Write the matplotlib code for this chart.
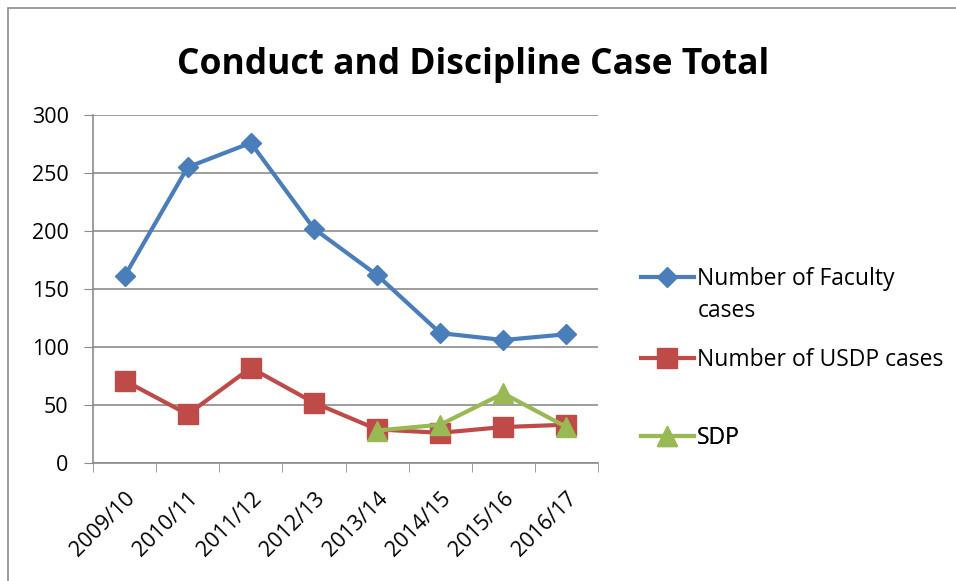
import matplotlib.pyplot as plt
from matplotlib.patches import Rectangle

years = ['2009/10', '2010/11', '2011/12', '2012/13',
         '2013/14', '2014/15', '2015/16', '2016/17']
faculty = [161, 255, 276, 202, 162, 112, 106, 111]
usdp = [71, 42, 82, 52, 29, 26, 31, 33]
sdp_years = ['2013/14', '2014/15', '2015/16', '2016/17']
sdp = [28, 33, 60, 31]

plt.rcParams['font.family'] = ['Open Sans', 'DejaVu Sans']

fig = plt.figure(figsize=(9.56, 5.81), dpi=100)
fig.patches.append(Rectangle((8 / 956, -0.1), 1.0, 1 - 8 / 581 + 0.1,
                             transform=fig.transFigure, fill=False,
                             edgecolor='#8c8c8c', linewidth=1.2))
ax = fig.add_axes([93 / 956, 1 - 463 / 581, (598 - 93) / 956, (463 - 115) / 581])

x = list(range(len(years)))
xs = [years.index(y) for y in sdp_years]
l1, = ax.plot(x, faculty, color='#4A7EBB', lw=3, marker='D', ms=10,
              label='Number of Faculty')
l2, = ax.plot(x, usdp, color='#BE4B48', lw=3, marker='s', ms=14,
              label='Number of USDP cases')
l3, = ax.plot(xs, sdp, color='#98B954', lw=3, marker='^', ms=14,
              label='SDP')

ax.set_xlim(-0.5, len(years) - 0.5)
ax.set_ylim(0, 300)
ax.set_yticks(range(0, 301, 50))
ax.set_xticks(x)
ax.set_xticklabels(years, rotation=45, ha='right', rotation_mode='anchor')
ax.set_xticks([i - 0.5 for i in range(len(years) + 1)], minor=True)
ax.tick_params(axis='x', which='major', length=0, labelsize=15.5, pad=18)
ax.tick_params(axis='x', which='minor', length=6.5, color='#8c8c8c', direction='out')
ax.tick_params(axis='y', length=6.5, color='#8c8c8c', labelsize=15.5, pad=11)
ax.grid(axis='y', color='#8c8c8c', lw=1.2)
ax.set_axisbelow(True)
for s in ['top', 'right']:
    ax.spines[s].set_visible(False)
for s in ['left', 'bottom']:
    ax.spines[s].set_color('#8c8c8c')
    ax.spines[s].set_linewidth(1.2)

fig.text(473 / 956, 1 - 65 / 581, 'Conduct and Discipline Case Total',
         ha='center', va='center', fontsize=25.5, fontweight='bold')

# one legend per entry so the uneven spacing of the original can be kept
entries = [(l1, 279), (l2, 360), (l3, 438)]
for line, ypix in entries:
    leg = ax.legend(handles=[line], loc='center left',
                    bbox_to_anchor=(641 / 956, 1 - ypix / 581),
                    bbox_transform=fig.transFigure, frameon=False,
                    fontsize=16.5, handlelength=2.3, handletextpad=0.15,
                    borderaxespad=0, borderpad=0)
    ax.add_artist(leg)
# wrapped second line of the first legend label
fig.text(698 / 956, 1 - 311 / 581, 'cases', ha='left', va='center', fontsize=16.5)

fig.savefig('out.png', dpi=100)
